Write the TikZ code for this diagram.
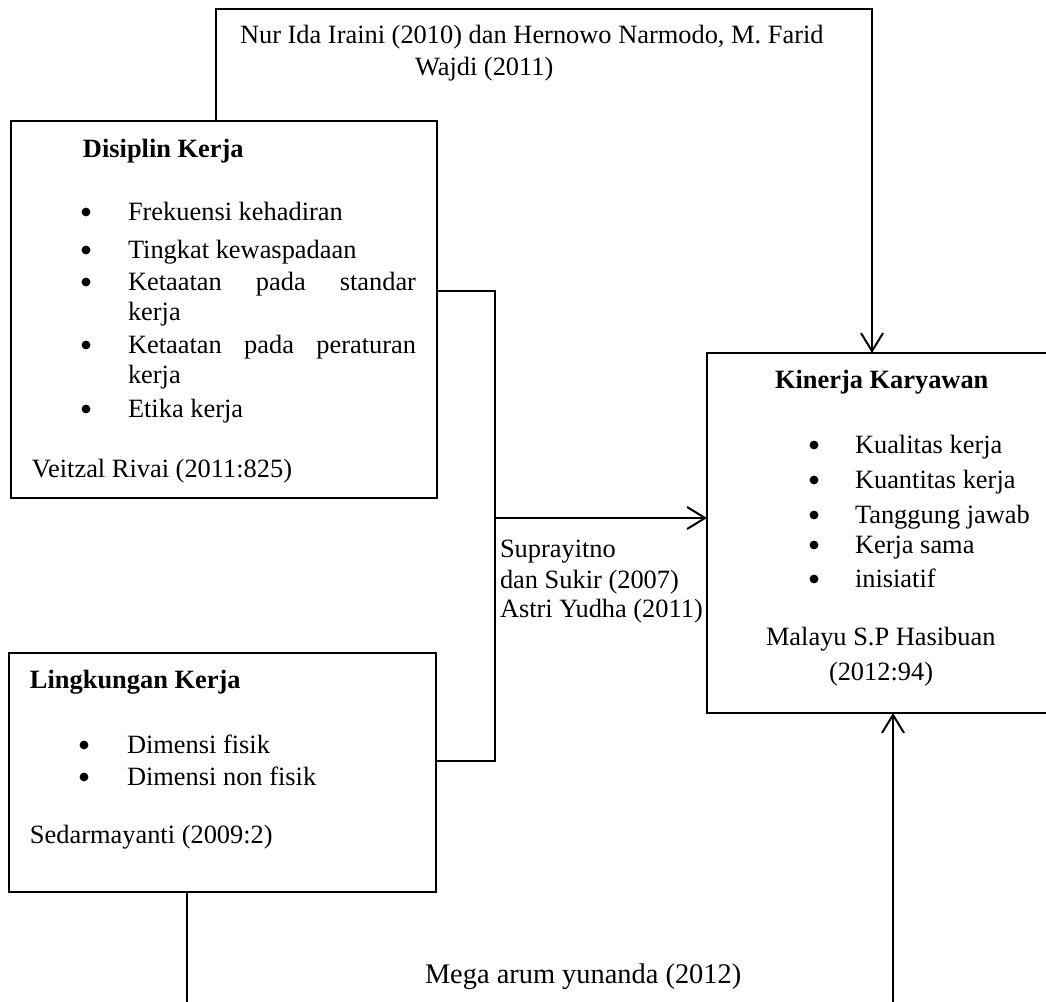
\documentclass[tikz,border=0pt]{standalone}
\usepackage{fontspec}
\setmainfont{Liberation Serif}
\usetikzlibrary{arrows.meta,fit}
\begin{document}
\begin{tikzpicture}[x=0.5pt,y=-0.5pt,
  every node/.style={font=\fontsize{13.2}{16}\selectfont, inner sep=0pt, outer sep=0pt},
  boxnode/.style={draw, line width=1pt, rectangle, inner sep=0pt},
  conn/.style={line width=1pt},
  arr/.style={conn, -{Straight Barb[length=9pt,width=11pt,line width=1pt]}},
  txt/.style={anchor=base west},
  dot/.style={circle, fill, draw=none, minimum size=4.4pt, inner sep=0pt}
]
\useasboundingbox (0,0) rectangle (1046,1002);

% boxes
\node[boxnode, fit={(11,121) (437,498)}] (dk) {};
\node[boxnode, fit={(9,653) (436,892)}] (lk) {};
\node[boxnode, fit={(707,353) (1060,713)}] (kk) {};

% top reference label
\node[txt] (t1) at (240,43) {Nur Ida Iraini (2010) dan Hernowo Narmodo, M. Farid};
\node[txt] (t2) at (415,75) {Wajdi (2011)};

% Disiplin Kerja
\node[txt, font=\fontsize{13.2}{16}\selectfont\bfseries] (dkh) at (83,157) {Disiplin Kerja};
\node[dot] (db1) at (86,212) {};
\node[txt] (di1) at (128,220) {Frekuensi kehadiran};
\node[dot] (db2) at (86,250) {};
\node[txt] (di2) at (128,258) {Tingkat kewaspadaan};
\node[dot] (db3) at (86,282) {};
\node[txt] (di3) at (128,290) {\makebox[144pt][s]{Ketaatan pada standar}};
\node[txt] (di3b) at (128,320) {kerja};
\node[dot] (db4) at (86,345) {};
\node[txt] (di4) at (128,353) {\makebox[144pt][s]{Ketaatan pada peraturan}};
\node[txt] (di4b) at (128,383) {kerja};
\node[dot] (db5) at (86,409) {};
\node[txt] (di5) at (128,417) {Etika kerja};
\node[txt] (dsrc) at (32,477) {Veitzal Rivai (2011:825)};

% Lingkungan Kerja
\node[txt, font=\fontsize{13.2}{16}\selectfont\bfseries] (lkh) at (30,688) {Lingkungan Kerja};
\node[dot] (lb1) at (84,745) {};
\node[txt] (li1) at (127,753) {Dimensi fisik};
\node[dot] (lb2) at (84,777) {};
\node[txt] (li2) at (127,785) {Dimensi non fisik};
\node[txt] (lsrc) at (30,843) {Sedarmayanti (2009:2)};

% Kinerja Karyawan
\node[txt, font=\fontsize{13.2}{16}\selectfont\bfseries] (kkh) at (775,388) {Kinerja Karyawan};
\node[dot] (kb1) at (814,445) {};
\node[txt] (ki1) at (855,453) {Kualitas kerja};
\node[dot] (kb2) at (814,480) {};
\node[txt] (ki2) at (855,488) {Kuantitas kerja};
\node[dot] (kb3) at (814,515) {};
\node[txt] (ki3) at (855,523) {Tanggung jawab};
\node[dot] (kb4) at (814,545) {};
\node[txt] (ki4) at (855,553) {Kerja sama};
\node[dot] (kb5) at (814,579) {};
\node[txt] (ki5) at (855,587) {inisiatif};
\node[txt] (ksrc) at (766,645) {Malayu S.P Hasibuan};
\node[txt] (ksrc2) at (829,680) {(2012:94)};

% middle label
\node[txt] (m1) at (500,557) {Suprayitno};
\node[txt] (m2) at (500,588) {dan Sukir (2007)};
\node[txt] (m3) at (500,617) {Astri Yudha (2011)};

% bottom label
\node[txt, font=\fontsize{14.2}{17}\selectfont] (bl) at (425,983) {Mega arum yunanda (2012)};

% connectors
\coordinate (c1) at (216,9);
\coordinate (c2) at (872,9);
\draw[arr] (dk.north -| c1) -- (c1) -- (c2) -- (c2 |- kk.north);

\coordinate (j1) at (495,291);
\coordinate (j2) at (495,761);
\coordinate (j3) at (495,518);
\draw[conn] (dk.east |- j1) -- (j1) -- (j2) -- (lk.east |- j2);
\draw[arr] (j3) -- (kk.west |- j3);

\coordinate (b1) at (187,1010);
\coordinate (b2) at (893,1010);
\draw[conn] (lk.south -| b1) -- (b1);
\draw[arr] (b2) -- (b2 |- kk.south);
\end{tikzpicture}
\end{document}
